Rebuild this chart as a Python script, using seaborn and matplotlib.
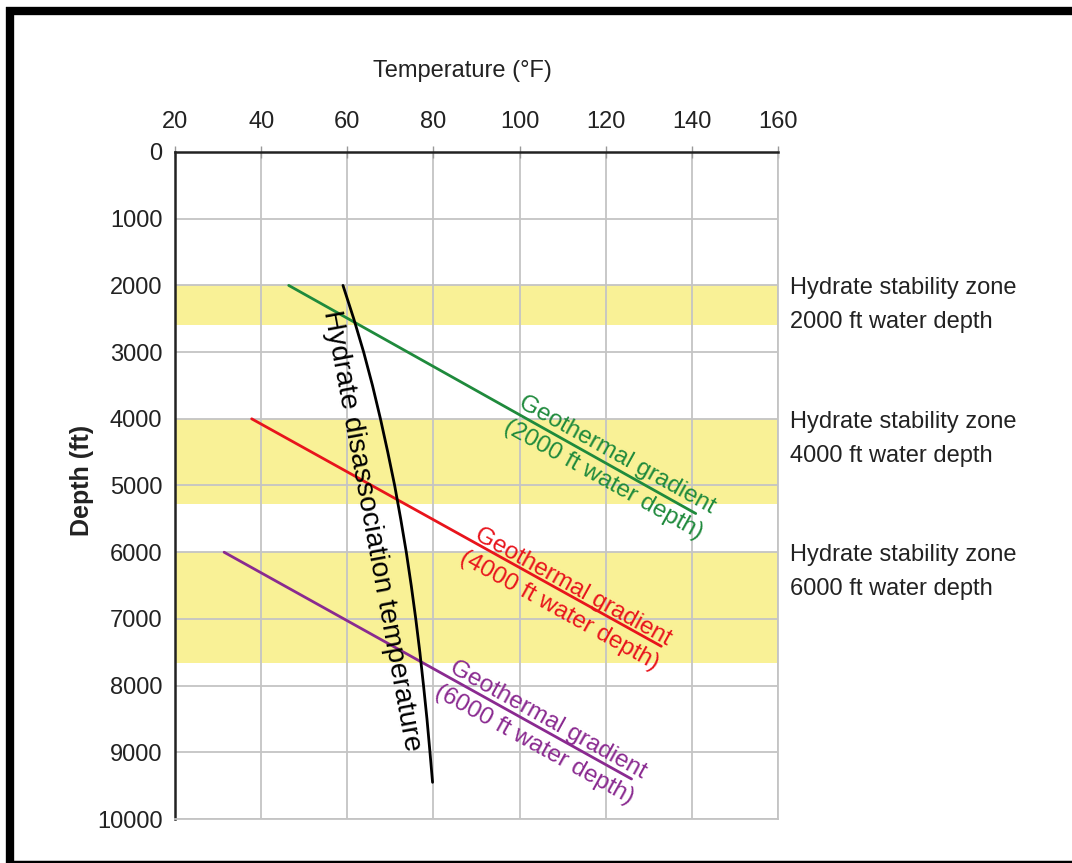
import numpy as np
import pandas as pd
import matplotlib
matplotlib.use("Agg")
import matplotlib.pyplot as plt
import matplotlib.transforms as mtransforms
from matplotlib.lines import Line2D
from matplotlib import font_manager
import seaborn as sns

# ---------------- data ----------------
x_ticks = [20, 40, 60, 80, 100, 120, 140, 160]
y_ticks = [0, 1000, 2000, 3000, 4000, 5000, 6000, 7000, 8000, 9000, 10000]

# hydrate stability zones (depth top, depth bottom)
zone_tops = [2000, 4000, 6000]
zone_bottoms = [2600, 5270, 7660]
zone_labels = ["Hydrate stability zone\n2000 ft water depth",
               "Hydrate stability zone\n4000 ft water depth",
               "Hydrate stability zone\n6000 ft water depth"]

# geothermal gradients (temperature F, depth ft)
geo2000_temp = [46.4, 140.9]
geo2000_depth = [2000, 5420]
geo4000_temp = [37.8, 132.9]
geo4000_depth = [4000, 7410]
geo6000_temp = [31.4, 126.0]
geo6000_depth = [6000, 9400]

# hydrate dissociation temperature curve
hyd_depth = [2000, 2500, 3000, 3500, 4000, 4500, 5000, 5500, 6000, 6500, 7000, 7500, 8000,
             8500, 9000, 9450]
hyd_temp = [59.0, 61.5, 63.8, 65.85, 67.7, 69.4, 71.0, 72.4, 73.7, 74.85, 75.9, 76.85, 77.7,
            78.5, 79.2, 79.8]

geo_labels = ["Geothermal gradient\n(2000 ft water depth)",
              "Geothermal gradient\n(4000 ft water depth)",
              "Geothermal gradient\n(6000 ft water depth)"]
hyd_label = "Hydrate disassociation temperature"

# ---------------- style ----------------
sns.set_theme(style="white")
names = {f.name for f in font_manager.fontManager.ttflist}
fam = "Liberation Sans Narrow" if "Liberation Sans Narrow" in names else "Liberation Sans"
plt.rcParams["font.family"] = [fam, "DejaVu Sans"]

c_green = "#1f8a3c"
c_red = "#e8141c"
c_purple = "#8a2a90"
c_yellow = "#f9f196"
c_grid = "#c4c4c4"
c_text = "#222222"

fig = plt.figure(figsize=(10.72, 8.63), dpi=100)
ax = fig.add_axes([175 / 1072, 1 - 819 / 863, (778 - 175) / 1072, (819 - 152) / 863])

for t, b in zip(zone_tops, zone_bottoms):
    ax.axhspan(t, b, color=c_yellow, lw=0, zorder=0)

ax.set_xticks(x_ticks)
ax.set_yticks(y_ticks)
ax.grid(True, color=c_grid, lw=1.3, zorder=0.5)
ax.set_axisbelow(True)

df_lines = [
    (pd.DataFrame({"T": geo2000_temp, "D": geo2000_depth}), c_green),
    (pd.DataFrame({"T": geo4000_temp, "D": geo4000_depth}), c_red),
    (pd.DataFrame({"T": geo6000_temp, "D": geo6000_depth}), c_purple),
    (pd.DataFrame({"T": hyd_temp, "D": hyd_depth}), "black"),
]
for d, c in df_lines:
    sns.lineplot(data=d, x="T", y="D", sort=False, color=c, lw=2.0, ax=ax, zorder=3)

ax.set_xlim(20, 160)
ax.set_ylim(10000, 0)

# axis styling
ax.xaxis.tick_top()
ax.xaxis.set_label_position("top")
ax.set_xlabel("Temperature (°F)", fontsize=17, labelpad=24, color=c_text)
ax.xaxis.label.set_x(0.477)
ax.set_ylabel("Depth (ft)", fontsize=18, color=c_text, fontweight="bold")
ax.yaxis.set_label_coords(-0.135, 0.508)
ax.tick_params(axis="both", labelsize=17, colors=c_text)
ax.tick_params(axis="x", direction="inout", length=8, width=1, color="#999999", pad=10)
ax.tick_params(axis="y", direction="inout", length=8, width=1, color="#999999", pad=5)
for s in ["top", "left"]:
    ax.spines[s].set_color(c_text)
    ax.spines[s].set_linewidth(1.8)
for s in ["right", "bottom"]:
    ax.spines[s].set_color(c_grid)
    ax.spines[s].set_linewidth(1.3)

# line labels
lab_kw = dict(rotation=-29, ha="center", va="center", rotation_mode="anchor",
              fontsize=17.5, linespacing=1.35, zorder=4)
ax.text(121.1, 4725, geo_labels[0], color=c_green, **lab_kw)
ax.text(110.9, 6700, geo_labels[1], color=c_red, **lab_kw)
ax.text(105.1, 8695, geo_labels[2], color=c_purple, **lab_kw)
ax.text(65.6, 5680, hyd_label, color="black", rotation=-79.5, ha="center", va="center",
        rotation_mode="anchor", fontsize=20.5, zorder=4)

# zone annotations on the right
trans = mtransforms.blended_transform_factory(ax.transAxes, ax.transData)
for t, b, lab in zip(zone_tops, zone_bottoms, zone_labels):
    ax.text(1 + 12 / 603, t + 300, lab, transform=trans, ha="left", va="center",
            fontsize=17, color=c_text, linespacing=1.7, clip_on=False)

# black frame
W, H = 1072, 863
fig.add_artist(Line2D([6 / W, 1], [1 - 11 / H] * 2, transform=fig.transFigure, color="black", lw=6,
                      solid_capstyle="butt"))
fig.add_artist(Line2D([10 / W] * 2, [0, 1 - 7 / H], transform=fig.transFigure, color="black", lw=6,
                      solid_capstyle="butt"))
fig.add_artist(Line2D([6 / W, 1], [1.5 / H] * 2, transform=fig.transFigure, color="black", lw=2.5,
                      solid_capstyle="butt"))

fig.savefig("out.png", dpi=100)
